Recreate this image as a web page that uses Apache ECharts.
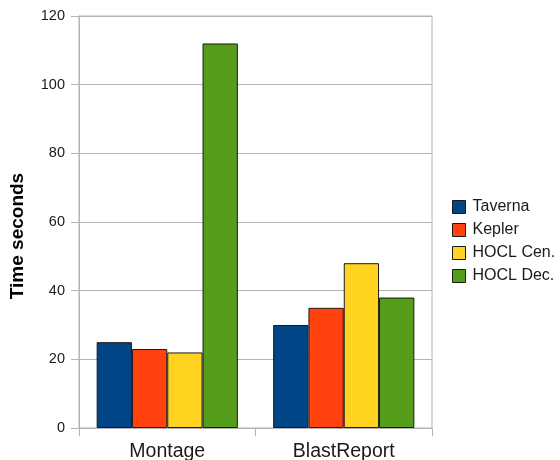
<!DOCTYPE html>
<html><head><meta charset="utf-8">
<script src="https://cdn.jsdelivr.net/npm/echarts@6/dist/echarts.min.js"></script>
<style>html,body{margin:0;padding:0;background:#fff}#c{width:560px;height:460px}</style>
</head><body><div id="c"></div>
<script>
const categories = ['Montage', 'BlastReport'];
const seriesNames = ['Taverna', 'Kepler', 'HOCL Cen.', 'HOCL Dec.'];
const taverna = [25, 30];
const kepler = [23, 35];
const hoclCen = [22, 48];
const hoclDec = [112, 38];
const colors = ['#004586', '#ff420e', '#ffd320', '#579d1c'];
const values = [taverna, kepler, hoclCen, hoclDec];

const chart = echarts.init(document.getElementById('c'), null, {renderer: 'canvas'});
chart.setOption({
  animation: false,
  color: colors,
  grid: {left: 79, right: 128, top: 16, bottom: 32, outerBoundsMode: 'none', containLabel: false, show: true, borderColor: '#b3b3b3', borderWidth: 1, backgroundColor: 'transparent'},
  legend: {
    orient: 'vertical', left: 452, top: 199, padding: 0, itemWidth: 13, itemHeight: 13, itemGap: 7,
    icon: 'rect',
    itemStyle: {borderColor: '#1a1a1a', borderWidth: 1},
    textStyle: {fontFamily: 'Liberation Sans', fontSize: 16, lineHeight: 16, color: '#1a1a1a', padding: [0,0,0,2]},
    data: seriesNames
  },
  xAxis: {
    type: 'category', data: categories,
    axisLine: {lineStyle: {color: '#b3b3b3'}},
    axisTick: {show: true, length: 8, alignWithLabel: false, lineStyle: {color: '#b3b3b3'}},
    axisLabel: {fontFamily: 'Liberation Sans', fontSize: 19.5, color: '#1a1a1a', margin: 14}
  },
  yAxis: {
    type: 'value', min: 0, max: 120, interval: 20,
    name: 'Time seconds', nameLocation: 'middle', nameGap: 52, nameRotate: 90,
    nameTextStyle: {fontFamily: 'Liberation Sans', fontSize: 19, fontWeight: 'bold', color: '#000', padding: [0, 28, 0, 0]},
    axisLine: {show: true, lineStyle: {color: '#b3b3b3'}},
    axisTick: {show: true, length: 8, lineStyle: {color: '#b3b3b3'}},
    axisLabel: {fontFamily: 'Liberation Sans', fontSize: 14.5, color: '#1a1a1a', margin: 14},
    splitLine: {lineStyle: {color: '#b3b3b3'}}
  },
  series: seriesNames.map((n, i) => ({
    name: n, type: 'bar', data: values[i],
    barGap: '0%', barCategoryGap: '20%',
    itemStyle: {color: colors[i], borderColor: '#1a1a1a', borderWidth: 1}
  }))
});
</script></body></html>
